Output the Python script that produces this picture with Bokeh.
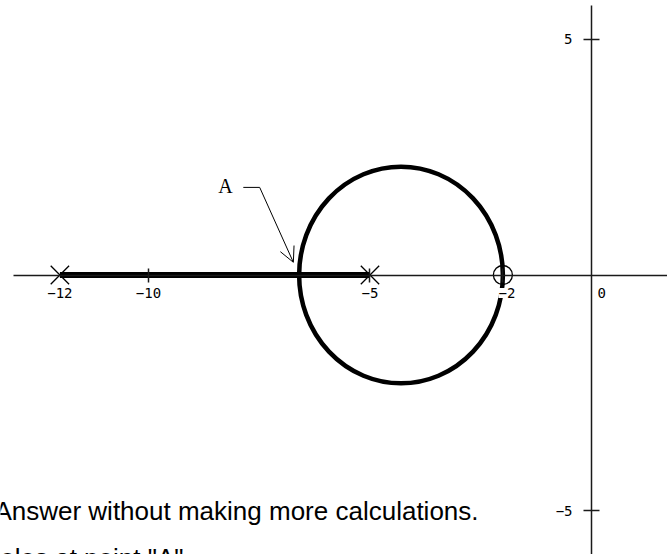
from bokeh.plotting import figure
from bokeh.models import LinearAxis, FixedTicker, Arrow, OpenHead, Range1d
from bokeh.core.properties import value
from bokeh.embed import file_html
from bokeh.resources import INLINE

# ---- data ----
poles = [-12, -5]
zeros = [-2]
point_a = -6.6                     # breakaway point "A"
real_locus_x = [-12, -5]           # real-axis branch between the poles
real_locus_y = [0, 0]
x_ticks = [-10, -5, -2]
x_tick_labels = {-10: "−10", -5: "−5", -2: ""}
x_extra_ticks = [-12]
x_extra_labels = {-12: "−12"}
y_ticks = [5, -5]
y_tick_labels = {5: "5", -5: "−5"}
leader_x = [-7.86, -7.49]
leader_y = [1.86, 1.86]
arrow_end = (-6.73, 0.27)
label_a = ("A", -8.26, 1.88)
text_line1 = "Answer without making more calculations."
text_line2 = "poles at point \"A\""

circle_cx = (point_a + zeros[0]) / 2
circle_d = zeros[0] - point_a

W, H = 667, 554
p = figure(width=W, height=H, output_backend="svg", toolbar_location=None,
           x_range=Range1d(-13.341, 1.716), y_range=Range1d(-5.934, 5.828),
           x_axis_type=None, y_axis_type=None, min_border=0)
p.outline_line_color = None
p.background_fill_color = "white"
p.border_fill_color = "white"

tick_font = value("DejaVu Sans Mono")

def style_axis(ax):
    ax.axis_line_color = "#1a1a1a"
    ax.axis_line_width = 1.5
    ax.major_tick_line_color = "#1a1a1a"
    ax.major_tick_line_width = 1.5
    ax.major_tick_in = 7
    ax.major_tick_out = 7
    ax.minor_tick_line_color = None
    ax.major_label_text_font = "DejaVu Sans Mono"
    ax.major_label_text_font_size = "14px"
    ax.major_label_text_color = "black"
    ax.major_label_standoff = 6
    ax.fixed_location = 0

xa = LinearAxis(ticker=FixedTicker(ticks=x_ticks), major_label_overrides=x_tick_labels)
style_axis(xa)
xa.bounds = (-13.05, 2)
p.add_layout(xa, "below")

xb = LinearAxis(ticker=FixedTicker(ticks=x_extra_ticks), major_label_overrides=x_extra_labels)
style_axis(xb)
xb.axis_line_color = None
xb.major_tick_line_color = None
p.add_layout(xb, "below")

ya = LinearAxis(ticker=FixedTicker(ticks=y_ticks), major_label_overrides=y_tick_labels)
style_axis(ya)
ya.major_tick_in = 8
ya.major_tick_out = 8
ya.major_label_standoff = 11
ya.bounds = (-7, 5.72)
p.add_layout(ya, "left")

# root locus
p.line(real_locus_x, real_locus_y, line_color="black", line_width=6)
p.ellipse(x=[circle_cx], y=[0], width=[circle_d], height=[circle_d],
          fill_color=None, line_color="black", line_width=4.5)

# poles and zero
p.scatter(poles, [0] * len(poles), marker="x", size=26, line_color="black", line_width=1.3)
p.scatter(zeros, [0] * len(zeros), marker="circle", size=19, fill_color=None,
          line_color="black", line_width=1.3)

# labels drawn as text
p.text(x=zeros, y=[0], text=["−2"], text_font=tick_font, text_font_size="14px",
       text_align="center", text_baseline="top", x_offset=4, y_offset=13,
       background_fill_color="white", text_color="black")
p.text(x=[0], y=[0], text=["0"], text_font=tick_font, text_font_size="14px",
       text_align="left", text_baseline="top", x_offset=6, y_offset=13, text_color="black")

# annotation A
p.line(leader_x, leader_y, line_color="black", line_width=1)
p.add_layout(Arrow(end=OpenHead(size=15, line_width=1, line_color="black"),
                   x_start=leader_x[-1], y_start=leader_y[-1],
                   x_end=arrow_end[0], y_end=arrow_end[1],
                   line_color="black", line_width=1))
p.text(x=[label_a[1]], y=[label_a[2]], text=[label_a[0]], text_font=value("Liberation Serif"),
       text_font_size="20px", text_align="center", text_baseline="middle", text_color="black")

# question text
p.text(x=[-2.55], y=[-5.0], text=[text_line1], text_font=value("Liberation Sans"),
       text_font_size="26px", text_align="right", text_baseline="alphabetic", text_color="black")
p.text(x=[-9.21], y=[-5.0], text=[text_line2], text_font=value("Liberation Sans"),
       text_font_size="26px", text_align="right", text_baseline="alphabetic",
       y_offset=47, text_color="black")

open("out.html", "w").write(file_html(p, INLINE))
